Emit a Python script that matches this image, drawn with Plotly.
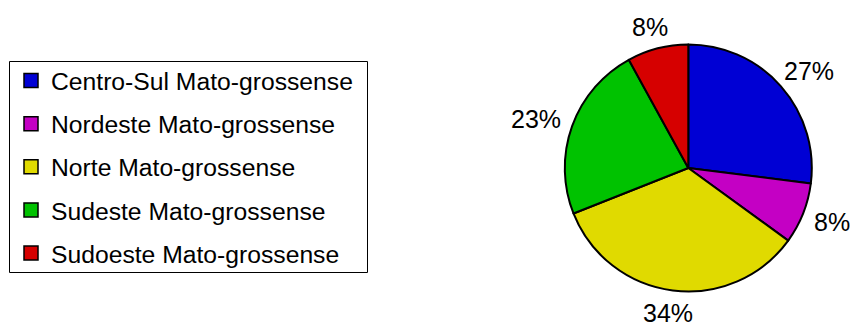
import math
import plotly.graph_objects as go

# Share of each Mato Grosso mesoregion (%)
regions = [
    "Centro-Sul Mato-grossense",
    "Nordeste Mato-grossense",
    "Norte Mato-grossense",
    "Sudeste Mato-grossense",
    "Sudoeste Mato-grossense",
]
shares = [27, 8, 34, 23, 8]
colors = ["#0000d4", "#c400c4", "#e0da00", "#00c200", "#d60000"]

FONT = "Arial, Liberation Sans, sans-serif"
W, H = 852, 327
LABEL_SIZE = 25

# Pie placement in pixels (centre and radius)
cx, cy, R = 688.3, 168.0, 123.5

fig = go.Figure()

fig.add_trace(go.Pie(
    labels=regions,
    values=shares,
    sort=False,
    direction="clockwise",
    rotation=0,
    marker=dict(colors=colors, line=dict(color="black", width=2)),
    textinfo="none",
    showlegend=False,
    hoverinfo="label+percent",
    domain=dict(x=[(cx - R) / W, (cx + R) / W], y=[1 - (cy + R) / H, 1 - (cy - R) / H]),
))

# Percentage labels set just outside the rim at each slice's mid-angle
total = sum(shares)
start = 0.0
gap = 13
for v in shares:
    frac = v / total
    mid = (start + frac / 2) * 2 * math.pi
    start += frac
    txt = f"{round(frac * 100)}%"
    half_w = ((len(txt) - 1) * 0.556 + 0.889) * LABEL_SIZE / 2
    half_h = 0.38 * LABEL_SIZE
    s, c = math.sin(mid), math.cos(mid)
    px = cx + (R + gap) * s + half_w * s
    py = cy - (R + gap) * c - half_h * c
    fig.add_annotation(
        x=px / W, y=1 - py / H, xref="paper", yref="paper",
        text=txt, showarrow=False, xanchor="center", yanchor="middle",
        font=dict(family=FONT, size=LABEL_SIZE, color="black"),
    )

# Legend entries, one group per region so the rows can be spaced out
for i, (name, col) in enumerate(zip(regions, colors)):
    fig.add_trace(go.Scatter(
        x=[None], y=[None],
        mode="markers",
        name=name,
        legendgroup=f"g{i}",
        marker=dict(symbol="square", size=14, color=col,
                    line=dict(color="black", width=1.5)),
    ))

# Frame around the legend
fig.add_shape(
    type="rect", xref="paper", yref="paper", layer="below",
    x0=9.5 / W, x1=367.5 / W, y0=1 - 272.5 / H, y1=1 - 61.5 / H,
    line=dict(color="black", width=1), fillcolor="white",
)

fig.update_layout(
    width=W,
    height=H,
    margin=dict(l=0, r=0, t=0, b=0),
    paper_bgcolor="white",
    plot_bgcolor="white",
    xaxis=dict(visible=False),
    yaxis=dict(visible=False),
    legend=dict(
        x=11 / W, xanchor="left",
        y=1 - 58 / H, yanchor="top",
        bgcolor="rgba(0,0,0,0)",
        borderwidth=0,
        font=dict(family=FONT, size=24.7, color="black"),
        tracegroupgap=8,
        itemwidth=30,
    ),
)

fig.write_html("out.html")
